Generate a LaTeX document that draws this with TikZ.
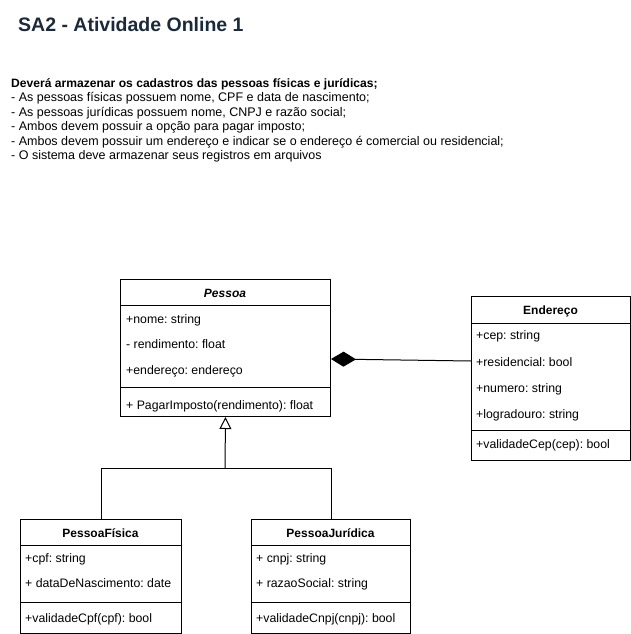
\documentclass[tikz,border=0pt]{standalone}
\usepackage{fontspec}
\setmainfont{Liberation Sans}
\usetikzlibrary{arrows.meta,calc}
\definecolor{titlenavy}{HTML}{1B2A3A}
\frenchspacing
\begin{document}
\begin{tikzpicture}[x=1pt,y=-1pt,
  classbox/.style={draw=black, line width=1pt, fill=white, inner sep=0pt, anchor=north west},
  member/.style={anchor=base west, inner sep=0pt, font=\fontsize{12.3}{14}\selectfont},
  reqline/.style={anchor=base west, inner sep=0pt, font=\fontsize{12.5}{14}\selectfont},
  classname/.style={anchor=base, inner sep=0pt, font=\fontsize{12}{14}\selectfont\bfseries},
  divider/.style={line width=1pt},
  wire/.style={line width=1pt, line cap=rect}]
\useasboundingbox[fill=white] (0,0) rectangle (631,634);

% heading and requirements
\node[anchor=base west, inner sep=0pt, font=\fontsize{19.5}{22}\selectfont\bfseries, text=titlenavy] (title) at (18,32) {SA2 - Atividade Online 1};
\node[anchor=base west, inner sep=0pt, font=\fontsize{12.1}{14}\selectfont\bfseries] (req0) at (11,87) {Deverá armazenar os cadastros das pessoas físicas e jurídicas;};
\node[reqline] (req1) at (11,101.5) {- As pessoas físicas possuem nome, CPF e data de nascimento;};
\node[reqline] (req2) at (11,116) {- As pessoas jurídicas possuem nome, CNPJ e razão social;};
\node[reqline] (req3) at (11,130.5) {- Ambos devem possuir a opção para pagar imposto;};
\node[reqline] (req4) at (11,145) {- Ambos devem possuir um endereço e indicar se o endereço é comercial ou residencial;};
\node[reqline] (req5) at (11,159.5) {- O sistema deve armazenar seus registros em arquivos};

% class Pessoa
\node[classbox, minimum width=210pt, minimum height=137pt] (pessoa) at (120,279) {};
\draw[divider] (120,305) -- (330,305);
\draw[divider] (120,387) -- (330,387);
\node[classname, font=\fontsize{12}{14}\selectfont\bfseries\itshape] (pessoaName) at (225,297) {Pessoa};
\node[member] (pNome) at (126,323) {+nome: string};
\node[member] (pRend) at (126,348) {- rendimento: float};
\node[member] (pEnd) at (126,374) {+endereço: endereço};
\node[member] (pImp) at (126,409) {+ PagarImposto(rendimento): float};

% class Endereco
\node[classbox, minimum width=159pt, minimum height=164pt] (endereco) at (471,296) {};
\draw[divider] (471,323) -- (630,323);
\draw[divider] (471,430) -- (630,430);
\node[classname] (enderecoName) at (550.5,314) {Endereço};
\node[member] (eCep) at (476,339) {+cep: string};
\node[member] (eRes) at (476,366) {+residencial: bool};
\node[member] (eNum) at (476,392) {+numero: string};
\node[member] (eLog) at (476,418) {+logradouro: string};
\node[member] (eVal) at (476,448) {+validadeCep(cep): bool};

% class PessoaFisica
\node[classbox, minimum width=161pt, minimum height=114pt] (pf) at (20,519) {};
\draw[divider] (20,545) -- (181,545);
\draw[divider] (20,602) -- (181,602);
\node[classname] (pfName) at (100.5,537) {PessoaFísica};
\node[member] (pfCpf) at (25,562) {+cpf: string};
\node[member] (pfData) at (25,587) {+ dataDeNascimento: date};
\node[member] (pfVal) at (25,622) {+validadeCpf(cpf): bool};

% class PessoaJuridica
\node[classbox, minimum width=159pt, minimum height=114pt] (pj) at (251,519) {};
\draw[divider] (251,545) -- (410,545);
\draw[divider] (251,602) -- (410,602);
\node[classname] (pjName) at (330.5,537) {PessoaJurídica};
\node[member] (pjCnpj) at (256,562) {+ cnpj: string};
\node[member] (pjRazao) at (256,587) {+ razaoSocial: string};
\node[member] (pjVal) at (256,622) {+validadeCnpj(cnpj): bool};

% generalization
\coordinate (junction) at (225,468);
\draw[wire] (pf.north) |- (junction);
\draw[wire] (pj.north) |- (junction);
\draw[line width=1pt, -{Triangle[open, length=12pt, width=12pt]}] (junction) -- (pessoa.south);

% composition
\draw[line width=1pt, -{Diamond[length=25pt, width=15pt]}] ($(endereco.north west)+(0,65)$) -- ($(pessoa.north east)+(0,80)$);
\end{tikzpicture}
\end{document}
